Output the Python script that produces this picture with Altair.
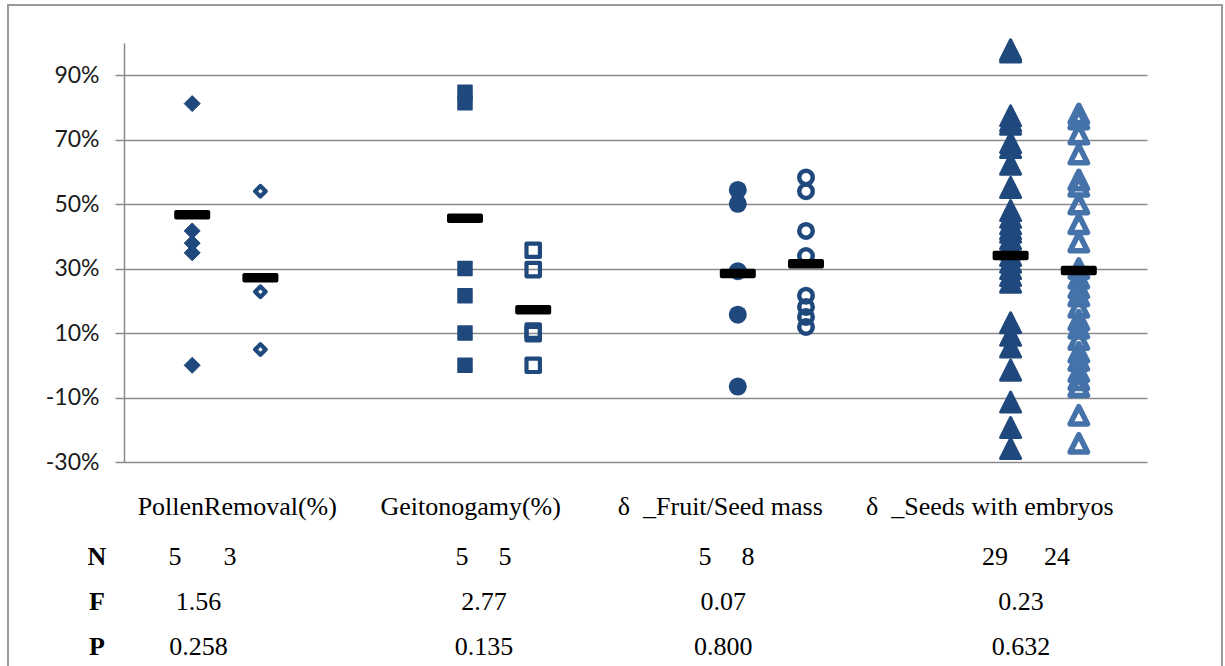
import altair as alt
import pandas as pd

# ---------------- data ----------------
categories = ["PollenRemoval(%)", "Geitonogamy(%)", "δ\u00a0\u00a0_Fruit/Seed mass", "δ\u00a0\u00a0_Seeds with embryos"]

pollen_filled = [81.2, 41.7, 37.9, 34.9, 0.0]
pollen_open = [54.0, 22.8, 4.9]
geito_filled = [84.7, 81.5, 30.0, 21.6, 10.0, 0.0]
geito_open = [35.7, 29.7, 10.6, 9.8, 0.0]
fruit_filled = [54.4, 50.1, 29.2, 15.7, -6.6]
fruit_open = [58.3, 54.0, 41.7, 33.9, 21.6, 18.1, 15.0, 11.9]
seeds_filled = [97.9, 97.2, 77.4, 75.8, 74.8, 69.1, 67.6, 62.4, 55.2, 48.0, 45.9,
                43.9, 42.3, 41.3, 39.2, 37.5, 36.1, 34.1, 32.0, 30.0, 27.9, 25.8,
                13.2, 9.3, 5.7, -1.5, -11.4, -19.3, -25.8]
seeds_open = [78.0, 76.4, 71.7, 65.5, 57.5, 55.5, 50.0, 43.9, 38.2, 30.0, 27.0, 24.0,
              21.5, 18.0, 14.0, 11.5, 8.0, 4.0, 1.5, -2.0, -4.5, -6.7, -15.5, -24.2]

means_filled = [46.7, 45.6, 28.5, 34.1]
means_open = [27.2, 17.2, 31.5, 29.4]

n_filled = ["5", "5", "5", "29"]
n_open = ["3", "5", "8", "24"]
f_values = ["1.56", "2.77", "0.07", "0.23"]
p_values = ["0.258", "0.135", "0.800", "0.632"]
row_names = ["N", "F", "P"]

# ---------------- layout / style ----------------
DARK = "#1F497D"
LIGHT = "#4672AA"
GRID = "#8A8A8A"
OPEN_SHIFT = 0.25
TRI = "M0,-1L1,1L-1,1Z"

label_x = [0.80, 1.69, 2.56, 3.47]          # left edge of category label text boxes
n_x_filled = [0.937, 1.989, 2.880, 3.943]
n_x_open = [1.139, 2.147, 3.037, 4.170]
fp_x = [1.023, 2.070, 2.947, 4.038]
row_name_x = 0.651

X = alt.X("x:Q", scale=alt.Scale(domain=[0.75, 4.5], nice=False, zero=False), axis=None)
Y = alt.Y("v:Q", scale=alt.Scale(domain=[-30, 100], nice=False, zero=False),
          axis=alt.Axis(values=[-30, -10, 10, 30, 50, 70, 90], labelExpr="datum.value + '%'",
                        grid=True, gridColor=GRID, gridWidth=1.5, domainColor=GRID, domainWidth=1.5,
                        tickColor=GRID, tickWidth=1.5, tickSize=9, labelPadding=16,
                        labelFont="Lato", labelFontSize=23, labelColor="#1a1a1a", title=None))

series = [
    (pollen_filled, 1, dict(shape="diamond", size=256, filled=True, fill=DARK, stroke=DARK, strokeWidth=1)),
    (pollen_open, 1 + OPEN_SHIFT, dict(shape="diamond", size=110, filled=False, stroke=DARK, strokeWidth=4.2)),
    (geito_filled, 2, dict(shape="square", size=196, filled=True, fill=DARK, stroke=DARK, strokeWidth=1.5)),
    (geito_open, 2 + OPEN_SHIFT, dict(shape="square", size=180, filled=False, stroke=DARK, strokeWidth=4.2)),
    (fruit_filled, 3, dict(shape="circle", size=324, filled=True, fill=DARK, stroke=DARK, strokeWidth=0)),
    (fruit_open, 3 + OPEN_SHIFT, dict(shape="circle", size=182, filled=False, stroke=DARK, strokeWidth=4.5)),
    (seeds_filled, 4, dict(shape=TRI, size=400, filled=True, fill=DARK, stroke=DARK, strokeWidth=3)),
    (seeds_open, 4 + OPEN_SHIFT, dict(shape=TRI, size=300, filled=False, stroke=LIGHT, strokeWidth=5.5)),
]

layers = []

# frame around the whole chart area
frame = alt.Chart(pd.DataFrame({"a": [0]})).mark_rect(fill=None, stroke="#9a9a9a", strokeWidth=2).encode(
    x=alt.value(-116), x2=alt.value(1098), y=alt.value(-38), y2=alt.value(640))
layers.append(frame)

for vals, xpos, style in series:
    df = pd.DataFrame({"x": [xpos] * len(vals), "v": vals})
    layers.append(alt.Chart(df).mark_point(opacity=1, strokeJoin="round", **style).encode(x=X, y=Y))

mean_df = pd.DataFrame({
    "x": [i + 1 for i in range(4)] + [i + 1 + OPEN_SHIFT for i in range(4)],
    "v": means_filled + means_open,
})
layers.append(alt.Chart(mean_df).mark_tick(orient="horizontal", size=36, thickness=9.5,
                                           cornerRadius=2, color="black", opacity=1).encode(x=X, y=Y))

# text table under the plot
text_rows = []
for i, c in enumerate(categories):
    text_rows.append({"x": label_x[i], "t": c, "row": 0})
    text_rows.append({"x": n_x_filled[i], "t": n_filled[i], "row": 1})
    text_rows.append({"x": n_x_open[i], "t": n_open[i], "row": 1})
    text_rows.append({"x": fp_x[i], "t": f_values[i], "row": 2})
    text_rows.append({"x": fp_x[i], "t": p_values[i], "row": 3})
tdf = pd.DataFrame(text_rows)
row_y = {0: 464, 1: 514, 2: 559, 3: 604}

Xt = alt.X("x:Q")
for r, yv in row_y.items():
    sub = tdf[tdf.row == r]
    align = "left" if r == 0 else "center"
    layers.append(alt.Chart(sub).mark_text(font="Liberation Serif", fontSize=26, color="black",
                                           align=align, baseline="middle").encode(
        x=Xt, y=alt.value(yv), text="t:N"))

rn_df = pd.DataFrame({"x": [row_name_x] * 3, "t": row_names, "row": [1, 2, 3]})
for k, name in enumerate(row_names):
    layers.append(alt.Chart(rn_df[rn_df.t == name]).mark_text(
        font="Liberation Serif", fontSize=26, fontWeight="bold", color="black",
        align="center", baseline="middle").encode(x=Xt, y=alt.value(row_y[k + 1]), text="t:N"))

chart = alt.layer(*layers).properties(
    width=1023, height=419,
    autosize=alt.AutoSizeParams(type="none"),
    padding={"left": 124, "top": 43, "right": 78, "bottom": 204},
    background="white",
).configure_view(stroke=None)

chart.save("out.html", embed_options={"renderer": "svg", "actions": False})
